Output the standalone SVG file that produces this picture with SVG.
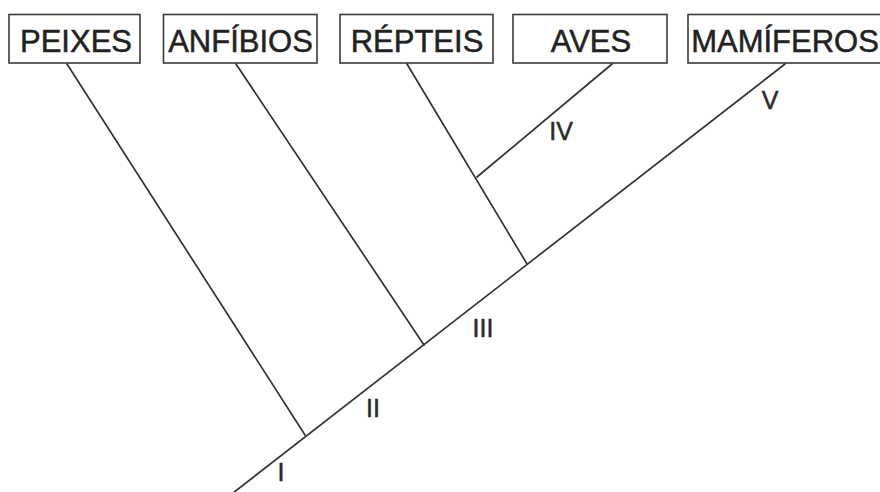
<svg xmlns="http://www.w3.org/2000/svg" width="880" height="492" viewBox="0 0 880 492">
  <style>
    .box rect { fill: #ffffff; stroke: #3a3a3a; stroke-width: 1.6; }
    .box text { font-family: "Liberation Sans", Arial, sans-serif; font-size: 31px; fill: #222222; stroke: #222222; stroke-width: 0.5; text-anchor: middle; }
    .edges line { stroke: #333333; stroke-width: 1.7; stroke-linecap: round; }
    .num { font-family: "Liberation Sans", Arial, sans-serif; font-size: 25px; fill: #2a2a2a; stroke: #2a2a2a; stroke-width: 0.5; text-anchor: middle; }
  </style>
  <rect width="880" height="492" fill="#ffffff"/>

  <!-- branches of the tree -->
  <g id="edges" class="edges">
    <line x1="233" y1="493" x2="785" y2="64"/>
    <line x1="67" y1="64" x2="305" y2="435"/>
    <line x1="236" y1="64" x2="424" y2="345"/>
    <line x1="407" y1="64" x2="527" y2="264"/>
    <line x1="612" y1="64" x2="477" y2="177"/>
  </g>

  <!-- taxa -->
  <g id="peixes" class="box">
    <rect x="9" y="14.5" width="131" height="48.5"/>
    <text x="76" y="52">PEIXES</text>
  </g>
  <g id="anfibios" class="box">
    <rect x="163.5" y="14.5" width="153.5" height="48.5"/>
    <text x="240.5" y="52">ANFÍBIOS</text>
  </g>
  <g id="repteis" class="box">
    <rect x="340" y="14.5" width="153" height="48.5"/>
    <text x="417" y="52">RÉPTEIS</text>
  </g>
  <g id="aves" class="box">
    <rect x="513" y="14.5" width="154" height="48.5"/>
    <text x="591" y="52">AVES</text>
  </g>
  <g id="mamiferos" class="box">
    <rect x="688" y="14.5" width="194" height="48.5"/>
    <text x="785" y="52">MAMÍFEROS</text>
  </g>

  <!-- character markers -->
  <g id="markers">
    <text class="num" x="281" y="481">I</text>
    <text class="num" x="373" y="417">II</text>
    <text class="num" x="483" y="337">III</text>
    <text class="num" x="561" y="140">IV</text>
    <text class="num" x="770" y="109">V</text>
  </g>
</svg>
